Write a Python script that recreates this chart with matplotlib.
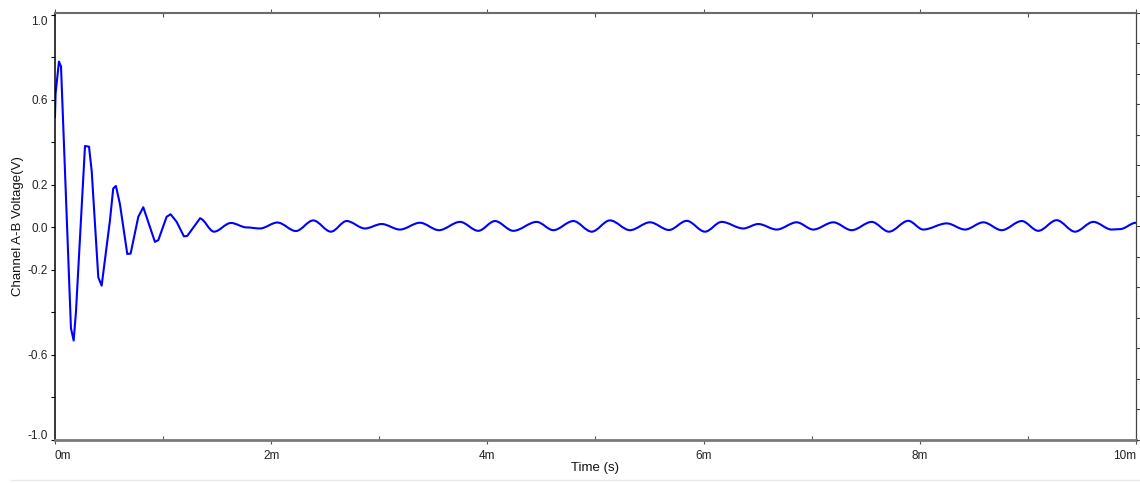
import numpy as np
import matplotlib
matplotlib.use('Agg')
import matplotlib.pyplot as plt
from matplotlib.path import Path
from matplotlib.patches import PathPatch
from matplotlib.lines import Line2D
from matplotlib.ticker import FixedLocator, FuncFormatter
from matplotlib.transforms import ScaledTranslation

plt.rcParams['font.family'] = ['Liberation Sans', 'DejaVu Sans']

# ringing at the start (straight segments between samples), time in ms
t_ring = [0.0, 0.006, 0.037, 0.056, 0.148, 0.173, 0.194, 0.278, 0.315, 0.340,
          0.401, 0.432, 0.509, 0.539, 0.564, 0.601, 0.669, 0.700, 0.771, 0.817,
          0.925, 0.956, 1.033, 1.070, 1.126, 1.193, 1.224, 1.341]
v_ring = [0.52, 0.63, 0.78, 0.757, -0.474, -0.532, -0.40, 0.383, 0.38, 0.265,
          -0.235, -0.274, 0.034, 0.183, 0.195, 0.11, -0.125, -0.123, 0.05, 0.095,
          -0.068, -0.06, 0.05, 0.062, 0.026, -0.042, -0.04, 0.042]

# residual ripple afterwards: peaks and troughs only
t_tail = [1.341, 1.471, 1.628, 1.773, 1.896, 2.058, 2.229, 2.389, 2.553, 2.698,
          2.868, 3.022, 3.191, 3.376, 3.552, 3.747, 3.916, 4.070, 4.240, 4.456,
          4.610, 4.795, 4.965, 5.134, 5.319, 5.504, 5.680, 5.844, 6.013, 6.167,
          6.367, 6.506, 6.676, 6.861, 7.015, 7.200, 7.370, 7.555, 7.715, 7.893,
          8.032, 8.249, 8.418, 8.588, 8.758, 8.943, 9.096, 9.266, 9.436, 9.605,
          9.775, 9.852, 10.0]
v_tail = [0.042, -0.02, 0.021, 0.0, -0.005, 0.023, -0.017, 0.033, -0.02, 0.03,
          -0.005, 0.016, -0.01, 0.022, -0.013, 0.026, -0.016, 0.03, -0.016, 0.026,
          -0.013, 0.03, -0.02, 0.033, -0.013, 0.024, -0.012, 0.031, -0.02, 0.026,
          -0.005, 0.016, -0.01, 0.024, -0.01, 0.024, -0.013, 0.026, -0.02, 0.031,
          -0.01, 0.019, -0.01, 0.024, -0.013, 0.03, -0.016, 0.034, -0.02, 0.026,
          -0.01, -0.008, 0.022]

y_major = [-1.0, -0.6, -0.2, 0.0, 0.2, 0.6, 1.0]
y_minor = [-0.8, -0.4, 0.4, 0.8]
x_major = [0, 2, 4, 6, 8, 10]
x_minor = [1, 3, 5, 7, 9]

fig = plt.figure(figsize=(11.4, 4.83), dpi=100)
ax = fig.add_axes([0.0482, 0.089, 0.9483, 0.8847])

blue = '#0000ff'
ax.plot(t_ring, v_ring, color=blue, lw=1.5, solid_joinstyle='round')

# smooth the ripple with horizontal tangents at each extremum
verts = [(t_tail[0], v_tail[0])]
codes = [Path.MOVETO]
for t0, v0, t1, v1 in zip(t_tail[:-1], v_tail[:-1], t_tail[1:], v_tail[1:]):
    dt = t1 - t0
    verts += [(t0 + dt / 3, v0), (t1 - dt / 3, v1), (t1, v1)]
    codes += [Path.CURVE4] * 3
ax.add_patch(PathPatch(Path(verts, codes), fill=False, edgecolor=blue, lw=1.5))

ax.set_xlim(0, 10)
ax.set_ylim(-1.0, 1.01)

ax.spines['left'].set_color('black')
ax.spines['left'].set_linewidth(1.1)
ax.spines['bottom'].set_color('#7a7a7a')
ax.spines['bottom'].set_linewidth(2.0)
ax.spines['top'].set_color('#6a6a6a')
ax.spines['top'].set_linewidth(1.5)
ax.spines['right'].set_color('#444444')
ax.spines['right'].set_linewidth(0.9)

ax.yaxis.set_major_locator(FixedLocator(y_major))
ax.yaxis.set_minor_locator(FixedLocator(y_minor))
ax.yaxis.set_major_formatter(FuncFormatter(lambda v, p: f'{v:.1f}'))
ax.xaxis.set_major_locator(FixedLocator(x_major))
ax.xaxis.set_minor_locator(FixedLocator(x_minor))
ax.xaxis.set_major_formatter(FuncFormatter(lambda v, p: f'{v:g}m'))

ax.tick_params(axis='y', which='both', direction='out', length=3, width=0.8,
               color='black', labelsize=8.5, labelcolor='#222222', pad=2)
ax.tick_params(axis='x', which='major', direction='out', length=3, width=0.8,
               color='#555555', labelsize=8.5, labelcolor='#222222', pad=4,
               top=True)
ax.tick_params(axis='x', which='minor', direction='in', length=3, width=0.8,
               color='#555555', top=True)

labels = ax.get_xticklabels()
labels[0].set_ha('left')
labels[-1].set_ha('right')

# keep the end labels of the y axis inside the frame
ylabels = ax.get_yticklabels()
ylabels[0].set_transform(ylabels[0].get_transform() + ScaledTranslation(0, 4 / 72, fig.dpi_scale_trans))
ylabels[-1].set_transform(ylabels[-1].get_transform() + ScaledTranslation(0, -4 / 72, fig.dpi_scale_trans))

# unlabelled ticks on the right edge
ax2 = ax.twinx()
ax2.set_ylim(0, 14)
ax2.yaxis.set_major_locator(FixedLocator(range(15)))
ax2.tick_params(axis='y', direction='out', length=3, width=0.8, color='#444444',
                labelright=False)
for s in ax2.spines.values():
    s.set_visible(False)

ax.set_xlabel('Time (s)', fontsize=9.5, color='#111111', va='top')
ax.xaxis.set_label_coords(0.5, -0.052)
ax.set_ylabel('Channel A-B Voltage(V)', fontsize=9.5, color='#111111', va='center')
ax.yaxis.set_label_coords(-0.034, 0.5)

fig.add_artist(Line2D([0.01, 1.0], [0.006, 0.006], color='#e8e8e8', lw=1,
                      transform=fig.transFigure))

fig.savefig('out.png', dpi=100)
